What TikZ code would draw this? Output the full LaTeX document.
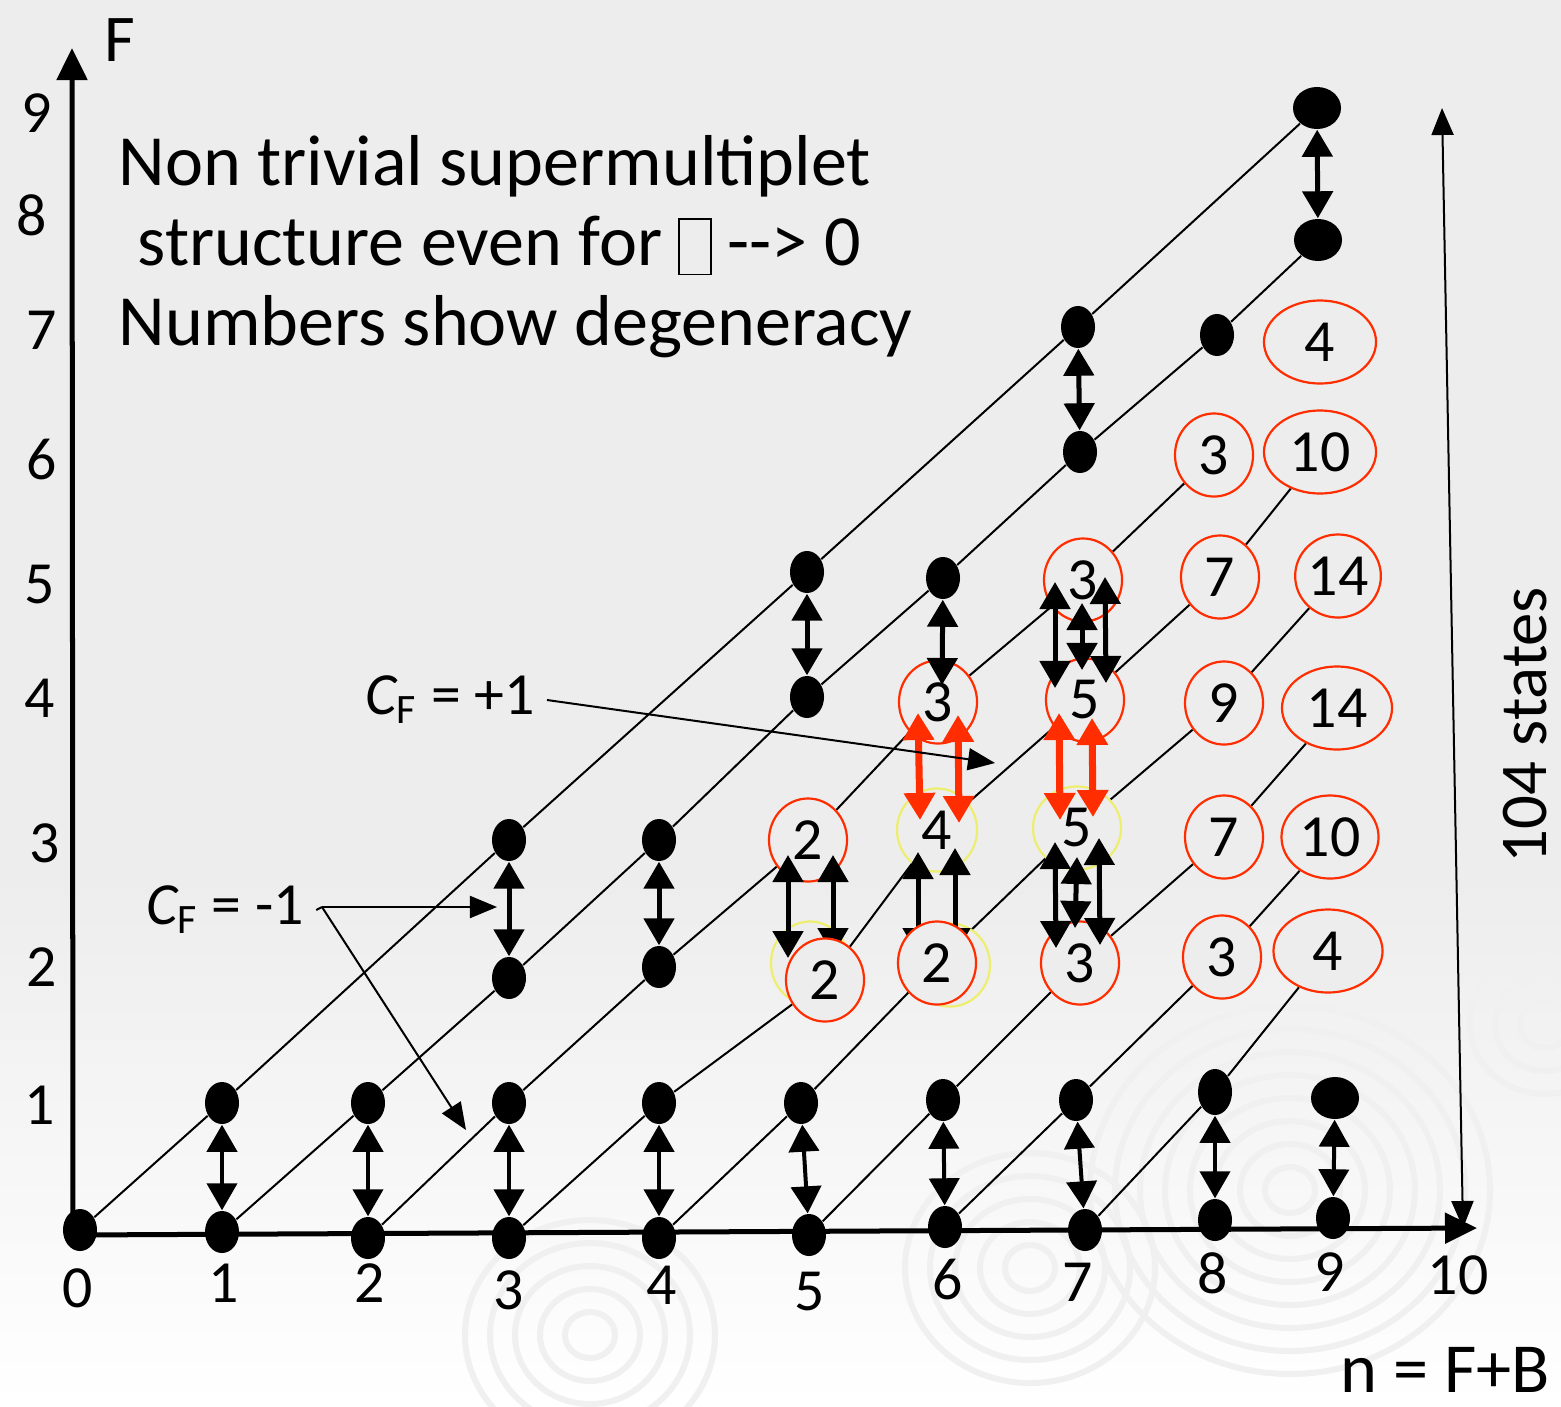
\documentclass[tikz,border=0pt]{standalone}
\usepackage{fontspec}
\setmainfont{Carlito}
\usepackage{tikz}
\usetikzlibrary{shapes.geometric, arrows.meta, calc}
\definecolor{gris}{RGB}{237,237,237}
\definecolor{rojo}{RGB}{255,45,0}
\definecolor{amarillo}{RGB}{238,238,110}
\pgfdeclarelayer{fondo}
\pgfdeclarelayer{lineas}
\pgfdeclarelayer{arriba}
\pgfsetlayers{fondo,lineas,main,arriba}
\tikzset{
  dot/.style={ellipse, fill=black, minimum width=0.34cm, minimum height=0.42cm, inner sep=0pt},
  bigdot/.style={dot, minimum width=0.48cm, minimum height=0.42cm},
  deg/.style={ellipse, draw=rojo, line width=0.022cm, fill=gris, minimum width=0.78cm, minimum height=0.83cm, inner sep=0pt, font=\fontsize{17}{17}\selectfont},
  degy/.style={deg, draw=amarillo},
  pair/.style={line width=0.05cm, {Triangle[length=0.27cm,width=0.3cm]}-{Triangle[length=0.27cm,width=0.3cm]}},
  pairlow/.style={pair, line width=0.04cm},
  pairred/.style={pair, draw=rojo, line width=0.07cm},
  thinarrow/.style={line width=0.02cm, -{Triangle[length=0.27cm,width=0.22cm]}},
  axis/.style={line width=0.05cm, -{Triangle[length=0.32cm,width=0.3cm]}}
}

\begin{document}
\begin{tikzpicture}[
    x=0.01cm, y=-0.01cm,
    % Estilos de textos
    lbl/.style={font=\fontsize{17}{17}\selectfont},
    title/.style={font=\fontsize{20.5}{25}\selectfont, anchor=base west, inner sep=0pt},
    cf/.style={font=\fontsize{17}{17}\selectfont},
    diag/.style={line width=0.02cm},
    onda/.style={draw=black!6, line width=0.06cm}
  ]
  \useasboundingbox (0,0) rectangle (1561,1406);

  % Fondo
  \begin{pgfonlayer}{fondo}
    \fill[gris] (0,0) rectangle (1561,1406);
    \shade[top color=gris, bottom color=white] (0,880) rectangle (1561,1406);
    \begin{scope}
      \clip (0,0) rectangle (1561,1406);
      \foreach \cx/\cy/\kmax in {590/1335/5, 1030/1268/5, 1290/1190/8, 1545/1025/3}
        \foreach \k in {1,...,\kmax}
          \draw[onda] (\cx,\cy) ellipse ({\k*25} and {\k*23});
    \end{scope}
  \end{pgfonlayer}

  % Estados degenerados (circulos)
  \node[degy] (y52) at (810,963) {};
  \node[degy, minimum width=0.80cm] (c63) at (937,830) {4};
  \node[degy, minimum width=0.80cm] (y62) at (950,965) {};
  \node[degy, minimum width=0.88cm] (c73) at (1077,828) {5};

  \node[deg] (c53) at (808,840) {2};
  \node[deg] (c64) at (938,702) {3};
  \node[deg] (c75) at (1083,580) {3};
  \node[deg] (c74) at (1085,700) {5};
  \node[deg] (c72) at (1080,963) {3};
  % estos tapan las puntas de las flechas
  \begin{pgfonlayer}{arriba}
    \node[deg] (c52) at (825,980) {2};
    \node[deg] (c62) at (937,963) {2};
  \end{pgfonlayer}

  \node[deg] (c86) at (1214,455) {3};
  \node[deg] (c85) at (1220,577) {7};
  \node[deg] (c84) at (1224,703) {9};
  \node[deg] (c83) at (1224,837) {7};
  \node[deg] (c82) at (1222,957) {3};

  \node[deg, minimum width=1.12cm] (c97) at (1320,342) {4};
  \node[deg, minimum width=1.12cm] (c96) at (1320,452) {10};
  \node[deg, minimum width=0.81cm] (c95) at (1338,576) {14};
  \node[deg, minimum width=1.10cm] (c94) at (1337,708) {14};
  \node[deg, minimum width=0.97cm] (c93) at (1330,837) {10};
  \node[deg, minimum width=1.09cm] (c92) at (1328,951) {4};

  % Estados simples (puntos)
  \node[dot] (d00) at (80,1230) {};
  \node[dot] (d10) at (222,1232) {};
  \node[dot] (d11) at (222,1103) {};
  \node[dot] (d20) at (368,1238) {};
  \node[dot] (d21) at (368,1103) {};
  \node[dot] (d30) at (509,1238) {};
  \node[dot] (d31) at (509,1103) {};
  \node[dot] (d32) at (509,978) {};
  \node[dot] (d33) at (509,840) {};
  \node[dot] (d40) at (659,1238) {};
  \node[dot] (d41) at (659,1103) {};
  \node[dot] (d42) at (659,967) {};
  \node[dot] (d43) at (659,840) {};
  \node[dot] (d50) at (809,1235) {};
  \node[dot] (d51) at (801,1103) {};
  \node[dot] (d54) at (807,697) {};
  \node[dot] (d55) at (807,572) {};
  \node[dot] (d60) at (945,1227) {};
  \node[dot] (d61) at (943,1100) {};
  \node[dot] (d65) at (943,578) {};
  \node[dot] (d70) at (1085,1230) {};
  \node[dot] (d71) at (1076,1100) {};
  \node[dot] (d76) at (1080,452) {};
  \node[dot] (d77) at (1078,327) {};
  \node[dot] (d80) at (1215,1220) {};
  \node[dot, minimum height=0.46cm] (d81) at (1215,1092) {};
  \node[dot] (d87) at (1217,335) {};
  \node[dot] (d90) at (1333,1218) {};
  \node[bigdot] (d91) at (1335,1098) {};
  \node[bigdot] (d98) at (1318,240) {};
  \node[bigdot] (d99) at (1317,108) {};

  % Flechas entre F y F-1
  \foreach \n in {1,...,9}
    \draw[pairlow] (d\n1) -- (d\n0);
  \draw[pair] (d33) -- (d32);
  \draw[pair] (d43) -- (d42);
  \draw[pair] (d55) -- (d54);
  \draw[pair] (d65) -- ($(c64)+(4,-17)$);
  \draw[pair] (d77) -- (d76);
  \draw[pair] (d99) -- (d98);

  % Columna n = 5
  \draw[pair] ($(c53)+(-20,15)$) -- ($(c52)+(-37,-22)$);
  \draw[pair] ($(c53)+(25,15)$) -- ($(c52)+(8,-25)$);
  % Columna n = 6
  \draw[pairred] ($(c64)+(-20,11)$) -- ($(c63)+(-17,-10)$);
  \draw[pairred] ($(c64)+(20,13)$) -- ($(c63)+(22,-7)$);
  \draw[pair] ($(c63)+(-19,22)$) -- ($(c62)+(-19,-8)$);
  \draw[pair] ($(c63)+(18,18)$) -- ($(c62)+(18,-8)$);
  % Columna n = 7
  \draw[pair] ($(c75)+(-28,2)$) -- ($(c74)+(-30,-12)$);
  \draw[pair] ($(c75)+(-1,23)$) -- ($(c74)+(-3,-30)$);
  \draw[pair] ($(c75)+(22,-3)$) -- ($(c74)+(21,-17)$);
  \draw[pairred] ($(c74)+(-26,13)$) -- ($(c73)+(-17,-8)$);
  \draw[pairred] ($(c74)+(7,18)$) -- ($(c73)+(16,-11)$);
  \draw[pair] ($(c73)+(-22,14)$) -- ($(c72)+(-24,-15)$);
  \draw[pair] ($(c73)+(0,29)$) -- ($(c72)+(-5,-35)$);
  \draw[pair] ($(c73)+(22,10)$) -- ($(c72)+(20,-18)$);

  % Diagonales B = constante
  \begin{pgfonlayer}{lineas}
    \foreach \a/\b in {d00/d11, d11/d33, d33/d55, d55/d77, d77/d99,
        d10/d21, d21/d32, d32/d43, d43/d54, d54/d65, d65/d76, d76/d87, d87/d98,
        d20/d31, d31/d42, d42/c53, c53/c64, c64/c75, c75/c86,
        d30/d41, d41/c52, c52/c63, c63/c74, c74/c85, c85/c96,
        d40/d51, d51/c62, c62/c73, c73/c84, c84/c95,
        d50/d61, d61/c72, c72/c83, c83/c94,
        d60/d71, d71/c82, c82/c93,
        d70/d81, d81/c92}
      \draw[diag] (\a) -- (\b);
  \end{pgfonlayer}

  % Ejes
  \coordinate (o) at (73,1235);
  \coordinate (xend) at (1477,1228);
  \coordinate (yend) at (72,48);
  \draw[axis] (o) -- (xend);
  \draw[axis] (o) -- (yend);
  \node[lbl, font=\fontsize{19}{19}\selectfont] (flab) at (120,40) {F};
  \foreach \f/\x/\y in {1/40/1105, 2/42/967, 3/45/843, 4/40/698, 5/40/585,
      6/42/460, 7/42/330, 8/32/215, 9/37/113}
    \node[lbl] (f\f) at (\x,\y) {\f};
  \foreach \n/\x/\y in {0/78/1288, 1/224/1283, 2/370/1283, 3/509/1290, 4/662/1285,
      5/810/1292, 6/948/1280, 7/1078/1282, 8/1213/1273, 9/1330/1272, 10/1458/1275}
    \node[lbl] (n\n) at (\x,\y) {\n};
  \node[lbl, font=\fontsize{20}{20}\selectfont] (nlab) at (1445,1370) {n = F+B};

  % Total de estados
  \coordinate (ttop) at (1442,108);
  \coordinate (tbot) at (1463,1228);
  \draw[line width=0.02cm, {Triangle[length=0.27cm,width=0.22cm]}-{Triangle[length=0.27cm,width=0.22cm]}] (tbot) -- (ttop);
  \node[lbl, font=\fontsize{19}{19}\selectfont, rotate=90] (tot) at (1525,725) {104 states};

  % Titulo
  \node[title] (t1) at (118,185) {Non trivial supermultiplet};
  \node[title] (t2) at (137,265) {structure even for {\setlength{\fboxsep}{0pt}\raisebox{-0.12em}{\fbox{\rule{0pt}{0.75em}\hspace{0.42em}}}} -{}-{}> 0};
  \node[title] (t3) at (118,345) {Numbers show degeneracy};

  % Etiquetas C_F
  \node[cf] (cfp) at (450,700) {{\itshape C}\textsubscript{F} = +1};
  \coordinate (cfptip) at (995,763);
  \draw[thinarrow] (cfp.east) -- (cfptip);
  \node[cf] (cfm) at (225,910) {{\itshape C}\textsubscript{F} = -1};
  \coordinate (cfmroot) at (322,907);
  \coordinate (cfmtip1) at (497,907);
  \coordinate (cfmtip2) at (466,1130);
  \draw[line width=0.02cm] (cfm.east) -- (cfmroot);
  \draw[thinarrow] (cfmroot) -- (cfmtip1);
  \draw[thinarrow] (cfmroot) -- (cfmtip2);
\end{tikzpicture}
\end{document}
